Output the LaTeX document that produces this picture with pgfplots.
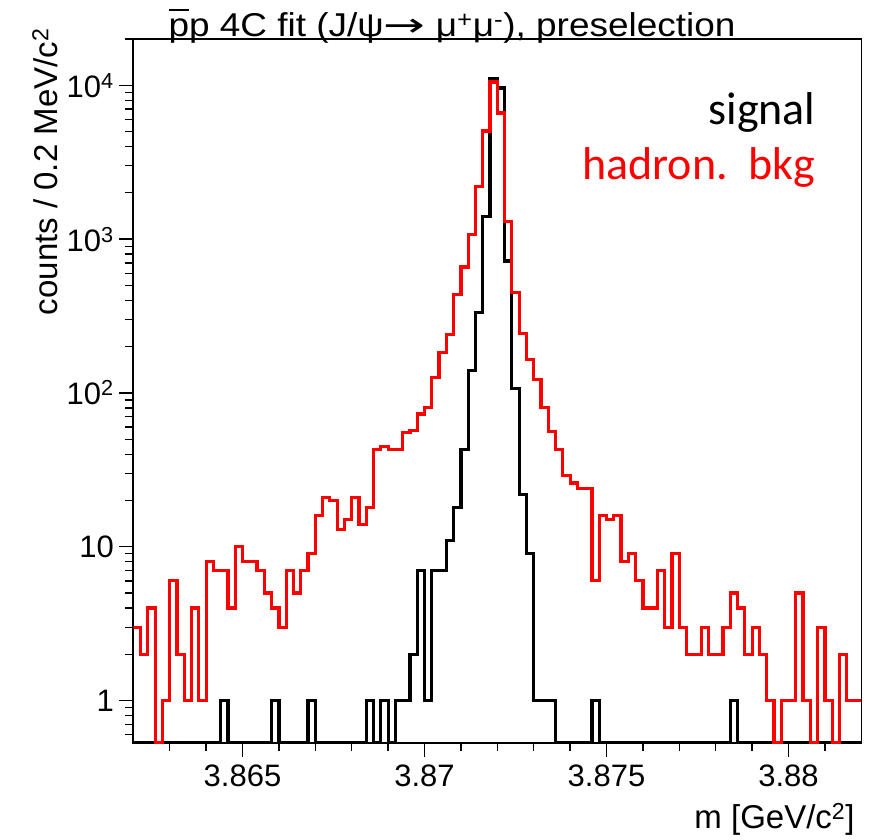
\documentclass[border=0pt]{standalone}
\usepackage{pgfplots}
\usepackage{pgfplotstable}
\pgfplotsset{compat=1.18}
\usepackage{fontspec}
\setmainfont{Liberation Sans}
\newfontfamily\calibri{Carlito}
\newfontfamily\dejavu{DejaVu Sans}

\pgfplotstableread{
m sig bkg
3.8620 0 3
3.8622 0 2
3.8624 0 4
3.8626 0 0
3.8628 0 1
3.8630 0 6
3.8632 0 2
3.8634 0 1
3.8636 0 4
3.8638 0 1
3.8640 0 8
3.8642 0 7
3.8644 1 7
3.8646 0 4
3.8648 0 10
3.8650 0 8
3.8652 0 8
3.8654 0 7
3.8656 0 5
3.8658 1 4
3.8660 0 3
3.8662 0 7
3.8664 0 5
3.8666 0 7
3.8668 1 9
3.8670 0 16
3.8672 0 21
3.8674 0 20
3.8676 0 13
3.8678 0 15
3.8680 0 21
3.8682 0 14
3.8684 1 18
3.8686 0 43
3.8688 1 45
3.8690 0 43
3.8692 1 43
3.8694 1 55
3.8696 2 57
3.8698 7 73
3.8700 1 80
3.8702 7 126
3.8704 7 184
3.8706 11 240
3.8708 18 435
3.8710 43 658
3.8712 140 1070
3.8714 335 2200
3.8716 1400 5040
3.8718 11000 10500
3.8720 9600 6600
3.8722 720 1300
3.8724 107 449
3.8726 22 243
3.8728 9 165
3.8730 1 122
3.8732 1 80
3.8734 1 56
3.8736 0 43
3.8738 0 29
3.8740 0 26
3.8742 0 24
3.8744 0 24
3.8746 1 6
3.8748 0 16
3.8750 0 15
3.8752 0 16
3.8754 0 8
3.8756 0 9
3.8758 0 6
3.8760 0 4
3.8762 0 4
3.8764 0 7
3.8766 0 3
3.8768 0 9
3.8770 0 3
3.8772 0 2
3.8774 0 2
3.8776 0 3
3.8778 0 2
3.8780 0 2
3.8782 0 3
3.8784 1 5
3.8786 0 4
3.8788 0 2
3.8790 0 3
3.8792 0 2
3.8794 0 1
3.8796 0 0
3.8798 0 1
3.8800 0 1
3.8802 0 5
3.8804 0 1
3.8806 0 0
3.8808 0 3
3.8810 0 1
3.8812 0 0
3.8814 0 2
3.8816 0 1
3.8818 0 1
3.8820 0 1
}\histdata

\begin{document}
\begin{tikzpicture}
\useasboundingbox (-133.3pt,-96pt) rectangle (740.7pt,743pt);
\begin{axis}[
  scale only axis,
  width=728pt, height=704pt,
  at={(0pt,0pt)}, anchor=south west,
  xmin=3.862, xmax=3.882,
  ymode=log, ymin=0.53, ymax=2e4,
  xtick={3.865,3.87,3.875,3.88},
  xticklabels={3.865,3.87,3.875,3.88},
  minor xtick={3.863,3.864,3.866,3.867,3.868,3.869,3.871,3.872,3.873,3.874,3.876,3.877,3.878,3.879,3.881},
  ytick={1,10,100,1000,10000},
  yticklabels={1,10,10\textsuperscript{2},10\textsuperscript{3},10\textsuperscript{4}},
  minor ytick={0.6,0.7,0.8,0.9,2,3,4,5,6,7,8,9,20,30,40,50,60,70,80,90,200,300,400,500,600,700,800,900,2000,3000,4000,5000,6000,7000,8000,9000,20000},
  xtick pos=bottom, ytick pos=left,
  tick align=outside,
  major tick length=14pt, minor tick length=8pt,
  every tick/.style={black, line width=1.3pt},
  axis line style={line width=1.6pt},
  ticklabel style={font=\fontsize{31}{36}\selectfont},
  xticklabel style={yshift=-4pt},
  yticklabel style={xshift=-2pt},
  xlabel={m [GeV/c\textsuperscript{2}]},
  xlabel style={font=\fontsize{33}{38}\selectfont, at={(axis description cs:0.9955,-0.109)}, anchor=east},
  ylabel={counts / 0.2 MeV/c\textsuperscript{2}},
  ylabel style={font=\fontsize{33}{38}\selectfont, at={(axis description cs:-0.1213,1.02)}, anchor=east, rotate=0},
  clip=true,
]
\addplot[const plot, black, line width=3.2pt, line join=miter]
  table[x=m, y expr={max(\thisrow{sig},0.53)}] {\histdata};
\addplot[const plot, red, line width=3.2pt, line join=miter]
  table[x=m, y expr={max(\thisrow{bkg},0.53)}] {\histdata};
\end{axis}
\node[anchor=base west] at (31.7pt,706pt)
  {\fontsize{33}{38}\selectfont\scalebox{1.12}[1]{\rlap{\rule[0.78em]{0.556em}{0.07em}}pp 4C fit (J/ψ{\dejavu\scalebox{1.35}[1]{→}} μ\textsuperscript{+}μ\textsuperscript{-}), preselection}};
\node[anchor=base east] at (685.7pt,618pt) {\calibri\fontsize{46}{50}\selectfont signal};
\node[anchor=base east, text=red] at (685.7pt,563pt) {\calibri\fontsize{46}{50}\selectfont hadron.\ \ bkg};
\end{tikzpicture}
\end{document}
